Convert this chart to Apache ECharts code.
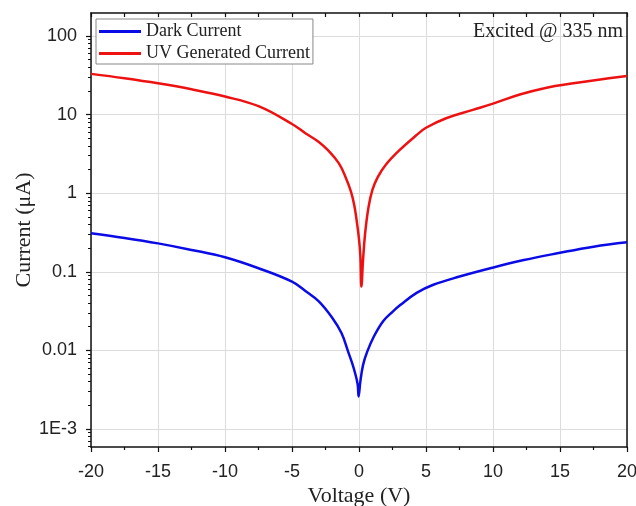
<!DOCTYPE html>
<html>
<head>
<meta charset="utf-8">
<script src="https://cdn.jsdelivr.net/npm/echarts@6/dist/echarts.min.js"></script>
<style>
  html, body { margin: 0; padding: 0; background: #fff; }
  #chart { width: 636px; height: 506px; }
</style>
</head>
<body>
<div id="chart"></div>
<script>
// voltage (V) / current (uA)
const uvVoltage = [-20, -17.5, -15, -12.5, -10, -7.5, -5, -4, -3, -2.3, -1.5, -1, -0.6, -0.35, -0.15, 0, 0.1, 0.18, 0.3, 0.45, 0.7, 1, 1.4, 2, 3, 4.3, 5, 6.5, 8.5, 10, 12, 14, 16, 18, 20]
const uvCurrent = [33, 29, 25, 21, 17, 12.8, 7.6, 5.8, 4.5, 3.5, 2.4, 1.6, 1.05, 0.7, 0.42, 0.26, 0.16, 0.065, 0.14, 0.3, 0.65, 1.1, 1.6, 2.3, 3.5, 5.5, 6.8, 9.0, 11.5, 13.8, 18, 22, 25, 28, 31]

const darkVoltage = [-20, -17.5, -15, -12.5, -10, -7.5, -5, -4, -3, -2, -1.3, -0.8, -0.5, -0.3, -0.1, -0.03, 0.1, 0.3, 0.6, 1.1, 1.8, 2.5, 3.1, 4.3, 5.5, 7.5, 9.8, 12.3, 14.8, 17.5, 20]
const darkCurrent = [0.31, 0.27, 0.23, 0.19, 0.153, 0.111, 0.075, 0.057, 0.042, 0.026, 0.0165, 0.0095, 0.0068, 0.0052, 0.0037, 0.0026, 0.004, 0.0065, 0.0095, 0.0149, 0.0235, 0.031, 0.038, 0.054, 0.068, 0.087, 0.111, 0.141, 0.172, 0.209, 0.237]

const yDecades = [-3, -2, -1, 0, 1, 2]
const yTickLabels = ['1E-3', '0.01', '0.1', '1', '10', '100']

const yMin = -3.229
const yMax = 2.293

// log minor ticks 2..9 of each decade
const yMinor = []
for (let d = -4; d <= 2; d++) {
  for (let k = 2; k <= 9; k++) {
    const v = d + Math.log10(k)
    if (v > yMin && v < yMax) yMinor.push(v)
  }
}

const toPairs = (xs, ys) => xs.map((x, i) => [x, Math.log10(ys[i])])

const sans = 'Liberation Sans'
const serif = 'Liberation Serif'
const axisColor = '#111'

const chart = echarts.init(document.getElementById('chart'))
chart.setOption({
  animation: false,
  backgroundColor: '#fff',
  grid: { left: 91, right: 9, top: 13, bottom: 59, outerBoundsMode: 'none', containLabel: false },
  legend: {
    orient: 'vertical',
    left: 96,
    top: 19,
    icon: 'rect',
    itemWidth: 42,
    itemHeight: 3,
    itemGap: 1,
    padding: [2, 3, 0, 3],
    borderColor: '#888',
    borderWidth: 1,
    backgroundColor: '#fff',
    data: ['Dark Current', 'UV Generated Current'],
    textStyle: { fontFamily: serif, fontSize: 18, color: '#222', lineHeight: 21 }
  },
  graphic: [{
    type: 'text',
    right: 13,
    top: 22,
    z: 100,
    style: { text: 'Excited @ 335 nm', font: '20px "Liberation Serif"', fill: '#222' }
  }],
  xAxis: [{
    type: 'value',
    position: 'bottom',
    min: -20,
    max: 20,
    interval: 5,
    name: 'Voltage (V)',
    nameLocation: 'middle',
    nameGap: 38,
    nameMoveOverlap: false,
    nameTextStyle: { fontFamily: serif, fontSize: 22, color: '#222' },
    axisLine: { onZero: false, lineStyle: { color: axisColor, width: 1.5 } },
    axisTick: { length: 5, lineStyle: { color: axisColor, width: 1.2 } },
    minorTick: { show: true, splitNumber: 2, length: 3, lineStyle: { color: axisColor, width: 1.2 } },
    axisLabel: { margin: 16, fontFamily: sans, fontSize: 18, color: '#222' },
    splitLine: { show: true, lineStyle: { color: '#dcdcdc', width: 1 } }
  }, {
    type: 'value',
    position: 'top',
    min: -20,
    max: 20,
    interval: 5,
    axisLine: { onZero: false, lineStyle: { color: axisColor, width: 1.5 } },
    axisTick: { inside: true, length: 4, lineStyle: { color: axisColor, width: 1.2 } },
    minorTick: { show: true, splitNumber: 2, length: 4, lineStyle: { color: axisColor, width: 1.2 } },
    axisLabel: { show: false },
    splitLine: { show: false }
  }],
  yAxis: [{
    type: 'value',
    position: 'left',
    min: yMin,
    max: yMax,
    name: 'Current (μA)',
    nameLocation: 'middle',
    nameGap: 56,
    nameMoveOverlap: false,
    nameTextStyle: { fontFamily: serif, fontSize: 22, color: '#222' },
    axisLine: { show: true, onZero: false, lineStyle: { color: axisColor, width: 1.5 } },
    axisTick: { customValues: yDecades, length: 5, lineStyle: { color: axisColor, width: 1.2 } },
    axisLabel: {
      customValues: yDecades,
      margin: 14,
      fontFamily: sans,
      fontSize: 18,
      color: '#222',
      formatter: v => yTickLabels[yDecades.indexOf(Math.round(v))]
    },
    splitLine: { show: true, lineStyle: { color: '#dcdcdc', width: 1 } }
  }, {
    type: 'value',
    position: 'left',
    min: yMin,
    max: yMax,
    axisLine: { show: false, onZero: false },
    axisTick: { customValues: yMinor, length: 3, lineStyle: { color: axisColor, width: 1 } },
    axisLabel: { show: false },
    splitLine: { show: false }
  }, {
    type: 'value',
    position: 'right',
    min: yMin,
    max: yMax,
    axisLine: { show: true, onZero: false, lineStyle: { color: axisColor, width: 1.5 } },
    axisTick: { show: false },
    axisLabel: { show: false },
    splitLine: { show: false }
  }],
  series: [{
    name: 'Dark Current',
    type: 'line',
    data: toPairs(darkVoltage, darkCurrent),
    showSymbol: false,
    smooth: 0.4,
    color: '#0b0be6',
    lineStyle: { width: 2.5 }
  }, {
    name: 'UV Generated Current',
    type: 'line',
    data: toPairs(uvVoltage, uvCurrent),
    showSymbol: false,
    smooth: 0.4,
    color: '#ee1111',
    lineStyle: { width: 2.5 }
  }]
})
</script>
</body>
</html>
